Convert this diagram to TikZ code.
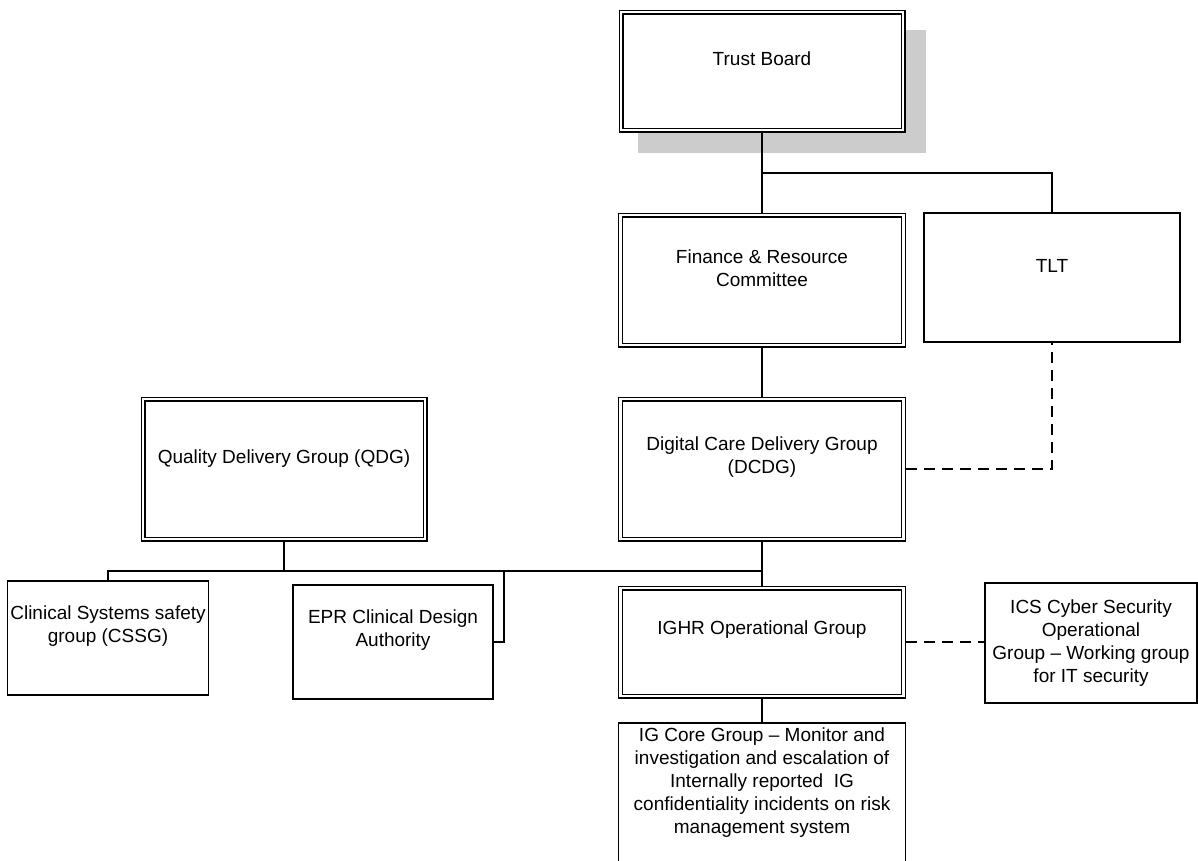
\documentclass[tikz,border=0pt]{standalone}
\usepackage{fontspec}
\setmainfont{Liberation Sans}
\begin{document}
\begin{tikzpicture}[x=1pt,y=-1pt,
  dbox/.style={draw=black, line width=1.4pt, double=white, double distance=2.2pt, fill=white, inner sep=0pt, outer sep=2.5pt, rectangle},
  sbox/.style={draw=black, line width=1.4pt, fill=white, inner sep=0pt, outer sep=0.7pt, rectangle},
  lbl/.style={font=\fontsize{19}{23}\selectfont, align=center, inner sep=0pt},
  conn/.style={line width=1.5pt},
  dconn/.style={line width=1.5pt, dash pattern=on 11pt off 7pt}]
\useasboundingbox (0,0) rectangle (1198,860);
\clip (0,0) rectangle (1198,860);
\fill[white] (0,0) rectangle (1198,860);
% shadow
\fill[black!20] (638,30) rectangle (926,153);
% boxes
\node[dbox, minimum width=282pt, minimum height=118pt] (tb) at (762,71) {};
\node[dbox, minimum width=283pt, minimum height=130pt] (fin) at (762,280) {};
\node[sbox, minimum width=256pt, minimum height=129pt] (tlt) at (1052,277.5) {};
\node[dbox, minimum width=283pt, minimum height=140pt] (dcdg) at (762,469) {};
\node[dbox, minimum width=282pt, minimum height=140pt] (qdg) at (284,469) {};
\node[sbox, minimum width=201pt, minimum height=114pt] (cssg) at (108,638) {};
\node[sbox, minimum width=200pt, minimum height=114pt] (epr) at (393,642) {};
\node[dbox, minimum width=283pt, minimum height=108pt] (ighr) at (762,642) {};
\node[sbox, minimum width=212pt, minimum height=120pt] (ics) at (1091,643) {};
\node[sbox, minimum width=287pt, minimum height=200pt] (igc) at (762,823) {};
% labels
\node[lbl] (tbt) at (762,59) {Trust Board};
\node[lbl] (fint) at (762,268) {Finance \& Resource\\Committee};
\node[lbl] (tltt) at (1052,266) {TLT};
\node[lbl] (dcdgt) at (762,457.5) {Digital Care Delivery Group\\(DCDG)};
\node[lbl] (qdgt) at (284,459) {Quality Delivery Group (QDG)};
\node[lbl] (cssgt) at (108,626.5) {Clinical Systems safety\\group (CSSG)};
\node[lbl] (eprt) at (393,630.5) {EPR Clinical Design\\Authority};
\node[lbl] (ighrt) at (762,630) {IGHR Operational Group};
\node[lbl] (icst) at (1091,643.5) {ICS Cyber Security\\Operational\\Group – Working group\\for IT security};
\node[lbl] (igct) at (762,783) {IG Core Group – Monitor and\\investigation and escalation of\\Internally reported\ \ IG\\confidentiality incidents on risk\\management system};
% connectors
\coordinate (jt) at (762,173);
\coordinate (bus) at (762,571);
\coordinate (epj) at (504,571);
\draw[conn] (tb.south) -- (fin.north);
\draw[conn] (jt) -| (tlt.north);
\draw[conn] (fin.south) -- (dcdg.north);
\draw[dconn] (dcdg.east) -| (tlt.south);
\draw[conn] (dcdg.south) -- (ighr.north);
\draw[conn] (bus) -| (cssg.north);
\draw[conn] (qdg.south) -- (qdg.south |- bus);
\draw[conn] (epj) |- (epr.east);
\draw[dconn] (ighr.east) -- (ighr.east -| ics.west);
\draw[conn] (ighr.south) -- (igc.north);
\end{tikzpicture}
\end{document}
